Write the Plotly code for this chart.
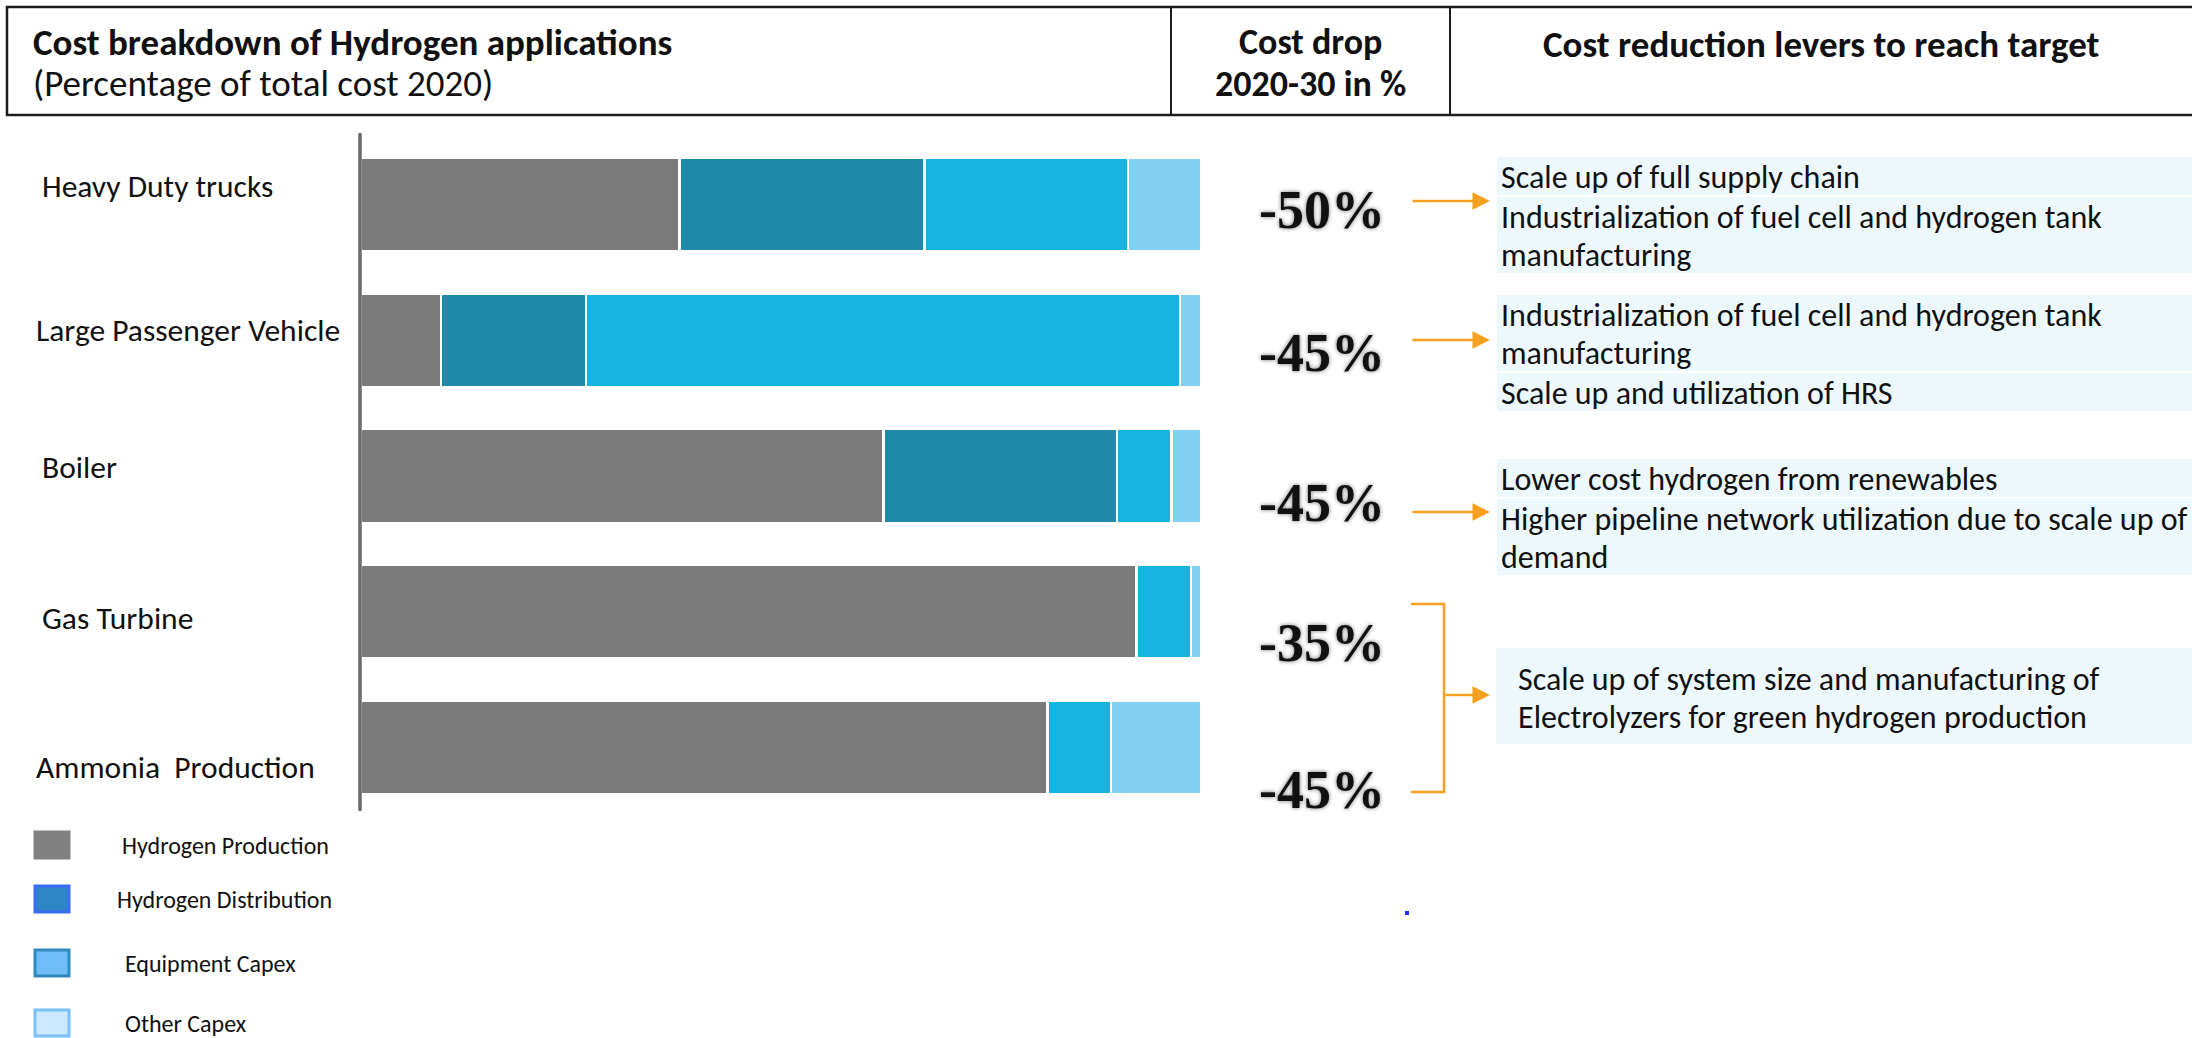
import plotly.graph_objects as go

# ---- data -------------------------------------------------------------
categories = ["Heavy Duty trucks", "Large Passenger Vehicle", "Boiler",
              "Gas Turbine", "Ammonia  Production"]
hydrogen_production = [37.9, 9.5, 62.2, 92.3, 81.7]
hydrogen_distribution = [29.2, 17.3, 27.8, None, None]
equipment_capex = [24.2, 70.7, 6.5, 6.5, 7.6]
other_capex = [8.7, 2.5, 3.5, 1.2, 10.7]

series_names = ["Hydrogen Production", "Hydrogen Distribution",
                "Equipment Capex", "Other Capex"]
cost_drop = ["-50%", "-45%", "-45%", "-35%", "-45%"]

lever_groups = [
    [["Scale up of full supply chain"],
     ["Industrialization of fuel cell and hydrogen tank", "manufacturing"]],
    [["Industrialization of fuel cell and hydrogen tank", "manufacturing"],
     ["Scale up and utilization of HRS"]],
    [["Lower cost hydrogen from renewables"],
     ["Higher pipeline network utilization due to scale up of", "demand"]],
]
shared_lever = ["Scale up of system size and manufacturing of",
                "Electrolyzers for green hydrogen production"]

header_left = ["Cost breakdown of Hydrogen applications",
               "(Percentage of total cost 2020)"]
header_mid = ["Cost drop", "2020-30 in %"]
header_right = "Cost reduction levers to reach target"

# ---- layout constants (pixels) -----------------------------------------
W, H = 2192, 1038
SANS = "Carlito, Calibri, Lato, sans-serif"
SERIF = "Liberation Serif, Times New Roman, serif"
ORANGE = "#f5a01e"
BOX_FILL = "#edf8fd"

bar_colors = ["#7a7b7a", "#1e8aa8", "#17b4e2", "#82d0f0"]
legend_fill = ["#808080", "#2f86c6", "#6fbef9", "#cce9fd"]
legend_edge = ["#808080", "#3a6cf6", "#2f8bbd", "#78bffc"]


def px(x):
    return x / W


def py(y):
    return 1 - y / H


fig = go.Figure()

for name, vals, col in zip(series_names,
                           [hydrogen_production, hydrogen_distribution,
                            equipment_capex, other_capex],
                           bar_colors):
    fig.add_trace(go.Bar(
        y=categories, x=vals, orientation="h", name=name,
        marker=dict(color=col, line=dict(color="white", width=2.5)),
        showlegend=False, hoverinfo="x+name"))

shapes = []
annotations = []


def text(x, y, s, size, bold=False, anchor="left", color="#111", family=SANS, **kw):
    font = dict(family=family, size=size, color=color)
    if bold:
        font["weight"] = "bold"
    font.update(kw.pop("font_extra", {}))
    annotations.append(dict(x=px(x), y=py(y), xref="paper", yref="paper",
                            text=s, showarrow=False, xanchor=anchor,
                            yanchor="middle", font=font, **kw))


# header band
shapes.append(dict(type="rect", xref="paper", yref="paper",
                   x0=px(7), x1=px(2200), y0=py(115), y1=py(7),
                   line=dict(color="#1c1c1c", width=2.5)))
for xd in (1171, 1450):
    shapes.append(dict(type="line", xref="paper", yref="paper",
                       x0=px(xd), x1=px(xd), y0=py(115), y1=py(7),
                       line=dict(color="#1c1c1c", width=2)))
text(31, 42, header_left[0], 37, bold=True)
text(31, 84, header_left[1], 37)
text(1310, 42, header_mid[0], 36, bold=True, anchor="center")
text(1310, 84, header_mid[1], 36, bold=True, anchor="center")
text(1821, 45, header_right, 37, bold=True, anchor="center")

# category labels beside the bars
label_pos = [(40, 186), (34, 330), (40, 467), (40, 618), (34, 767)]
for (lx, ly), cat in zip(label_pos, categories):
    text(lx, ly, cat, 31.5)

# axis line
shapes.append(dict(type="line", xref="paper", yref="paper",
                   x0=px(360), x1=px(360), y0=py(811), y1=py(133),
                   line=dict(color="#6a6a6a", width=3.5)))

# cost-drop figures
drop_y = [210, 353, 503, 643, 790]
for yv, s in zip(drop_y, cost_drop):
    text(1322, yv, s, 54, bold=True, anchor="center", family=SERIF,
         font_extra=dict(shadow="0px 0px 4px rgba(0,0,0,0.55)"))

# lever boxes
LINE = 38
group_tops = [157, 295, 459]
for top, rows in zip(group_tops, lever_groups):
    y = top
    for row in rows:
        h = LINE * len(row)
        shapes.append(dict(type="rect", xref="paper", yref="paper",
                           x0=px(1497), x1=px(2200), y0=py(y + h), y1=py(y),
                           fillcolor=BOX_FILL, line=dict(width=0), layer="below"))
        for i, line in enumerate(row):
            text(1499, y + LINE * i + LINE / 2 + 1, line, 32)
        y += h + 2

shapes.append(dict(type="rect", xref="paper", yref="paper",
                   x0=px(1496), x1=px(2200), y0=py(744), y1=py(648),
                   fillcolor=BOX_FILL, line=dict(width=0), layer="below"))
for i, line in enumerate(shared_lever):
    text(1516, 679 + LINE * i, line, 32)

# arrows to the levers
for ya in (201, 340, 512):
    annotations.append(dict(x=px(1490), y=py(ya), xref="paper", yref="paper",
                            ax=-79, ay=0, text="", showarrow=True,
                            arrowhead=2, arrowsize=1.4, arrowwidth=2.5,
                            arrowcolor=ORANGE, standoff=0))
shapes.append(dict(type="path", xref="paper", yref="paper",
                   path=f"M {px(1411)} {py(604)} L {px(1444)} {py(604)} "
                        f"L {px(1444)} {py(792)} L {px(1411)} {py(792)}",
                   line=dict(color=ORANGE, width=2.5)))
annotations.append(dict(x=px(1490), y=py(695), xref="paper", yref="paper",
                        ax=-46, ay=0, text="", showarrow=True,
                        arrowhead=2, arrowsize=1.4, arrowwidth=2.5,
                        arrowcolor=ORANGE, standoff=0))

# small blue tick below the bracket
shapes.append(dict(type="rect", xref="paper", yref="paper",
                   x0=px(1405), x1=px(1409), y0=py(915), y1=py(911),
                   fillcolor="#2030ff", line=dict(width=0)))

# legend
legend_y = [845, 899, 963, 1023]
legend_x = [120, 115, 123, 123]
for yl, xl, name, fc, ec in zip(legend_y, legend_x, series_names,
                                legend_fill, legend_edge):
    shapes.append(dict(type="rect", xref="paper", yref="paper",
                       x0=px(35), x1=px(69), y0=py(yl + 13), y1=py(yl - 13),
                       fillcolor=fc, line=dict(color=ec, width=3)))
    text(xl, yl, name, 24)

fig.update_layout(
    width=W, height=H, margin=dict(l=0, r=0, t=0, b=0),
    paper_bgcolor="white", plot_bgcolor="white",
    barmode="stack", bargap=0.31,
    xaxis=dict(domain=[px(361), px(1201)], range=[0, 100], visible=False,
               fixedrange=True),
    yaxis=dict(domain=[py(815), py(137)], autorange="reversed",
               visible=False, fixedrange=True),
    shapes=shapes, annotations=annotations,
)

fig.write_html("out.html")
